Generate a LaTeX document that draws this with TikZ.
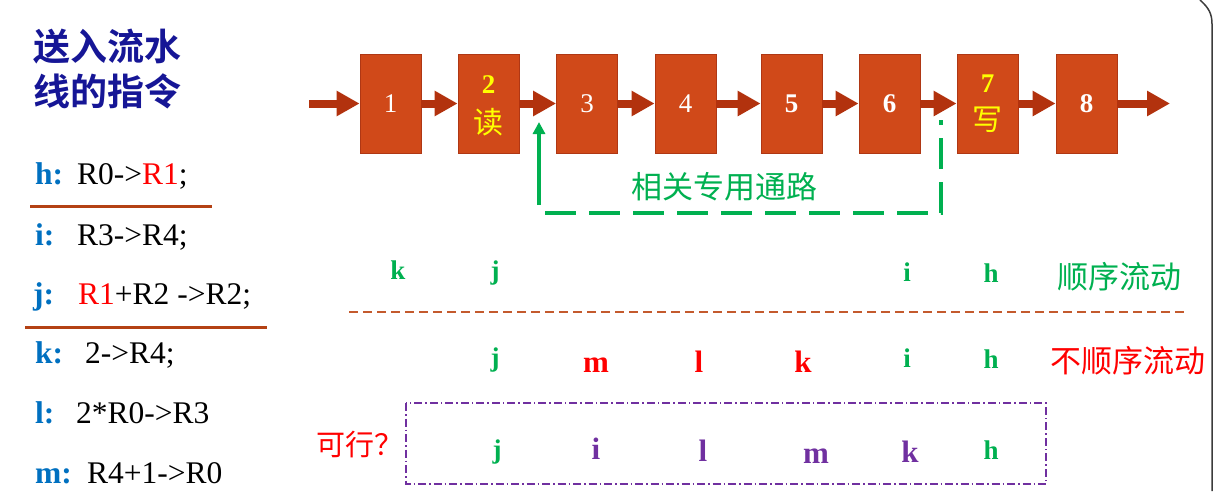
\documentclass[tikz,border=0pt]{standalone}
\usepackage{fontspec}
\setmainfont{Liberation Serif}
\newfontfamily\cjk{Noto Sans CJK SC}
\newfontfamily\cjkb{Noto Sans CJK SC Bold}
\usetikzlibrary{arrows.meta}
\definecolor{boxfill}{RGB}{208,73,25}
\definecolor{boxedge}{RGB}{175,55,20}
\definecolor{arrowc}{RGB}{178,50,14}
\definecolor{navy}{RGB}{22,22,150}
\definecolor{lblue}{RGB}{0,112,192}
\definecolor{mygreen}{RGB}{0,176,80}
\definecolor{myred}{RGB}{255,0,0}
\definecolor{mypurple}{RGB}{112,48,160}
\definecolor{brownline}{RGB}{180,65,20}
\definecolor{dashbrown}{RGB}{196,90,45}
\definecolor{myyellow}{RGB}{255,255,0}
\begin{document}
\begin{tikzpicture}[x=1pt,y=-1pt,
  titletext/.style={anchor=west, inner sep=0, text=navy, font=\cjkb\fontsize{37}{40}\selectfont},
  instr/.style={anchor=base west, inner sep=0, font=\fontsize{31.5}{36}\selectfont},
  instrlbl/.style={anchor=base west, inner sep=0, text=lblue, font=\bfseries\fontsize{31.5}{36}\selectfont},
  underline/.style={draw=brownline, line width=3pt},
  stage/.style={draw=boxedge, fill=boxfill, line width=0.8pt, minimum width=61pt, minimum height=99pt, inner sep=0, text=white, font=\fontsize{27}{30}\selectfont},
  stagenum/.style={inner sep=0, text=myyellow, font=\bfseries\fontsize{27}{30}\selectfont},
  stagecjk/.style={inner sep=0, text=myyellow, font=\cjk\fontsize{30}{32}\selectfont},
  pipe/.style={draw=arrowc, line width=8pt, -{Triangle[width=24pt,length=23pt]}},
  bypass/.style={draw=mygreen, line width=4pt},
  bypassdash/.style={draw=mygreen, line width=4pt, dash pattern=on 31pt off 13pt},
  cjklabel/.style={inner sep=0, font=\cjk\fontsize{31}{34}\selectfont},
  seqletter/.style={anchor=base, inner sep=0, font=\bfseries\fontsize{27}{30}\selectfont},
  bigletter/.style={anchor=base, inner sep=0, font=\bfseries\fontsize{31}{34}\selectfont},
]
\useasboundingbox (0,0) rectangle (1221,491);

% right border of frame
\draw[draw={rgb,255:red,60;green,60;blue,60}, line width=1.5pt] (1200,0) .. controls (1209,8) and (1212,14) .. (1212,24) -- (1212,491);

% title
\node[titletext] (t1) at (33,47) {送入流水};
\node[titletext] (t2) at (33,91) {线的指令};

% instructions
\node[instrlbl] (lh) at (35,184) {h:};
\node[instr] (ih) at (77,184) {R0->\textcolor{myred}{R1};};
\node[instrlbl] (li) at (35,245) {i:};
\node[instr] (ii) at (77,245) {R3->R4;};
\node[instrlbl] (lj) at (33,304) {j:};
\node[instr] (ij) at (78,304) {\textcolor{myred}{R1}+R2 ->R2;};
\node[instrlbl] (lk) at (35,363) {k:};
\node[instr] (ik) at (85,363) {2->R4;};
\node[instrlbl] (ll) at (35,423) {l:};
\node[instr] (il) at (76,423) {2*R0->R3};
\node[instrlbl] (lm) at (35,483) {m:};
\node[instr] (im) at (87,483) {R4+1->R0};

\coordinate (u1a) at (30,206); \coordinate (u1b) at (212,206);
\coordinate (u2a) at (25,327); \coordinate (u2b) at (267,327);
\draw[underline] (u1a) -- (u1b);
\draw[underline] (u2a) -- (u2b);

% pipeline stages
\node[stage] (b1) at (390.5,103.5) {1};
\node[stage] (b2) at (488.5,103.5) {};
\node[stagenum] (n2) at (488.5,85) {2};
\node[stagecjk] (r2) at (488.5,122) {读};
\node[stage] (b3) at (587,103.5) {3};
\node[stage] (b4) at (685.5,103.5) {4};
\node[stage, font=\bfseries\fontsize{27}{30}\selectfont] (b5) at (791.5,103.5) {5};
\node[stage, font=\bfseries\fontsize{27}{30}\selectfont] (b6) at (889.5,103.5) {6};
\node[stage] (b7) at (987.5,103.5) {};
\node[stagenum] (n7) at (987.5,84) {7};
\node[stagecjk] (w7) at (987.5,120) {写};
\node[stage, font=\bfseries\fontsize{27}{30}\selectfont] (b8) at (1086.5,103.5) {8};

\coordinate (in) at (309,103.5);
\coordinate (out) at (1170,103.5);
\draw[pipe] (in) -- (b1.west);
\draw[pipe] (b1.east) -- (b2.west);
\draw[pipe] (b2.east) -- (b3.west);
\draw[pipe] (b3.east) -- (b4.west);
\draw[pipe] (b4.east) -- (b5.west);
\draw[pipe] (b5.east) -- (b6.west);
\draw[pipe] (b6.east) -- (b7.west);
\draw[pipe] (b7.east) -- (b8.west);
\draw[pipe] (b8.east) -- (out);

% bypass path
\coordinate (gs) at (539,205);
\coordinate (gt) at (539,122);
\coordinate (c1) at (545,213);
\coordinate (c2) at (941,213);
\coordinate (c3) at (941,120);
\draw[bypass, -{Triangle[width=12pt,length=12pt]}] (gs) -- (gt);
\draw[bypassdash] (c1) -- (c2) -- (c3);
\node[cjklabel, text=mygreen] (bp) at (724,187) {相关专用通路};

% sequential flow row
\node[seqletter, text=mygreen] (s1) at (398,279) {k};
\node[seqletter, text=mygreen] (s2) at (495,279) {j};
\node[seqletter, text=mygreen] (s3) at (907,281) {i};
\node[seqletter, text=mygreen] (s4) at (991,282) {h};
\node[cjklabel, text=mygreen] (seq) at (1119,277) {顺序流动};

% separator
\coordinate (d1) at (349,312); \coordinate (d2) at (1185,312);
\draw[draw=dashbrown, line width=2.2pt, dash pattern=on 9pt off 5pt] (d1) -- (d2);

% out-of-order row
\node[seqletter, text=mygreen] (o1) at (495,366) {j};
\node[bigletter, text=myred] (o2) at (596,372) {m};
\node[bigletter, text=myred] (o3) at (699,372) {l};
\node[bigletter, text=myred] (o4) at (803,372) {k};
\node[seqletter, text=mygreen] (o5) at (907,367) {i};
\node[seqletter, text=mygreen] (o6) at (991,368) {h};
\node[cjklabel, text=myred] (oo) at (1128,361) {不顺序流动};

% feasible row
\coordinate (pb1) at (406,403); \coordinate (pb2) at (1046,484);
\draw[draw=mypurple, line width=1.2pt, dash pattern=on 8pt off 3pt on 1.5pt off 3pt] (pb1) rectangle (pb2);
\node[cjklabel, text=myred, font=\cjk\fontsize{29}{32}\selectfont] (q) at (360,444) {可行？};
\node[seqletter, text=mygreen] (f1) at (497,458) {j};
\node[bigletter, text=mypurple] (f2) at (596,459) {i};
\node[bigletter, text=mypurple] (f3) at (703,461) {l};
\node[bigletter, text=mypurple] (f4) at (816,463) {m};
\node[bigletter, text=mypurple] (f5) at (910,462) {k};
\node[seqletter, text=mygreen] (f6) at (991,459) {h};
\end{tikzpicture}
\end{document}
